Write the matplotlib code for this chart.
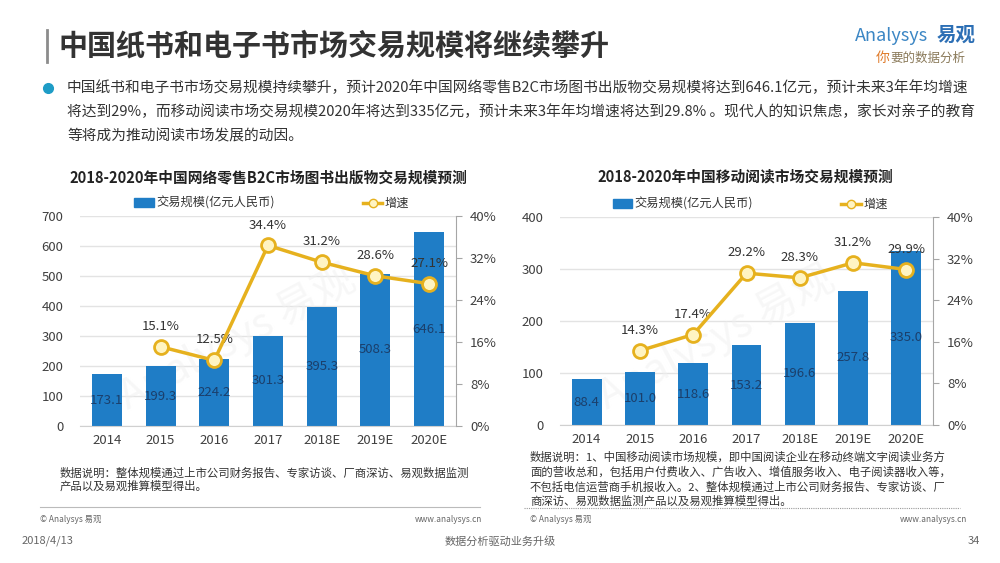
import matplotlib
matplotlib.use("Agg")
import matplotlib.pyplot as plt
from matplotlib.lines import Line2D
from matplotlib.patches import Patch

plt.rcParams['font.family'] = ['Noto Sans CJK SC', 'DejaVu Sans']

years = ['2014', '2015', '2016', '2017', '2018E', '2019E', '2020E']
b2c_size = [173.1, 199.3, 224.2, 301.3, 395.3, 508.3, 646.1]
b2c_growth = [15.1, 12.5, 34.4, 31.2, 28.6, 27.1]   # from 2015
mobile_size = [88.4, 101.0, 118.6, 153.2, 196.6, 257.8, 335.0]
mobile_growth = [14.3, 17.4, 29.2, 28.3, 31.2, 29.9]

bar_color = '#1F7DC6'
line_color = '#E6B11E'
marker_fill = '#FFF4C2'
grid_color = '#E3E3E3'
spine_color = '#A6A6A6'
text_color = '#404040'

W, H = 1000, 563


def px(x):
    return x / W


def py(y):
    return 1 - y / H


fig = plt.figure(figsize=(10, 5.63), dpi=100)
fig.patch.set_facecolor('white')

# header
fig.add_artist(Line2D([px(47), px(47)], [py(30), py(62)], color='#8C8C8C', lw=2))
fig.text(px(58), py(46), '中国纸书和电子书市场交易规模将继续攀升', fontsize=20.9,
         fontweight='bold', color='#333333', va='center')
fig.text(px(855), py(36), 'Analysys', fontsize=13, style='italic', color='#3B86C4', va='center')
fig.text(px(937), py(35), '易观', fontsize=14, fontweight='bold', color='#2C6FB5', va='center')
fig.text(px(876), py(58), '你', fontsize=10, color='#E07B2A', va='center', style='italic')
fig.text(px(890), py(58), '要的数据分析', fontsize=9, color='#8A7A5A', va='center', style='italic')

fig.add_artist(Line2D([px(48)], [py(88)], marker='o', markersize=7, color='#1E9CC6'))
bullet = ['中国纸书和电子书市场交易规模持续攀升，预计2020年中国网络零售B2C市场图书出版物交易规模将达到646.1亿元，预计未来3年年均增速',
          '将达到29%，而移动阅读市场交易规模2020年将达到335亿元，预计未来3年年均增速将达到29.8% 。现代人的知识焦虑，家长对亲子的教育',
          '等将成为推动阅读市场发展的动因。']
for i, line in enumerate(bullet):
    fig.text(px(67), py(88 + 24 * i), line, fontsize=10.6, color='#333333', va='center')


def draw_chart(rect, title, title_x, sizes, growth, ymax, ystep):
    ax = fig.add_axes(rect)
    x = range(len(years))
    ax.bar(x, sizes, width=0.56, color=bar_color, zorder=2)
    for xi, v in zip(x, sizes):
        ax.text(xi, v / 2, f'{v:.1f}', ha='center', va='center', fontsize=9.5,
                color='#1B3F6B', zorder=3)
    ax.set_xlim(-0.5, len(years) - 0.5)
    ax.set_ylim(0, ymax)
    ax.set_yticks(range(0, ymax + 1, ystep))
    ax.set_xticks(list(x))
    ax.set_xticklabels(years)
    ax.yaxis.grid(True, color=grid_color, lw=1, zorder=0)
    ax.set_axisbelow(True)
    for s in ['top', 'right', 'left']:
        ax.spines[s].set_visible(False)
    ax.spines['bottom'].set_color('#D0D0D0')
    ax.tick_params(axis='y', length=0, labelsize=9.5, labelcolor=text_color, pad=12)
    ax.tick_params(axis='x', length=0, labelsize=9.5, labelcolor=text_color, pad=6)

    ax2 = ax.twinx()
    gx = list(x)[1:]
    ax2.plot(gx, growth, color=line_color, lw=2.5, marker='o', markersize=10,
             markerfacecolor=marker_fill, markeredgecolor=line_color,
             markeredgewidth=2, zorder=4)
    for xi, g in zip(gx, growth):
        ax2.annotate(f'{g:.1f}%', (xi, g), xytext=(0, 10), textcoords='offset points',
                     ha='center', va='bottom', fontsize=9.5, color='#333333')
    ax2.set_ylim(0, 40)
    ax2.set_yticks(range(0, 41, 8))
    ax2.set_yticklabels([f'{t}%' for t in range(0, 41, 8)])
    for s in ['top', 'left', 'bottom']:
        ax2.spines[s].set_visible(False)
    ax2.spines['right'].set_color(spine_color)
    ax2.tick_params(axis='y', direction='out', length=4, color=spine_color,
                    labelsize=9.5, labelcolor=text_color, pad=6)

    handles = [Patch(color=bar_color),
               Line2D([0], [0], color=line_color, lw=2.5, marker='o', markersize=6,
                      markerfacecolor=marker_fill, markeredgecolor=line_color)]
    ax.legend(handles, ['交易规模(亿元人民币)', '增速'], ncol=2, frameon=False,
              loc='lower center', bbox_to_anchor=(0.51, 1.0), fontsize=8.8,
              columnspacing=7.2, handlelength=1.6, handletextpad=0.2,
              borderaxespad=0.1, labelcolor='#333333')
    fig.text(title_x, py(177), title, fontsize=10.6, fontweight='bold', ha='center',
             va='center', color='#222222')
    # watermark
    ax.text(0.42, 0.42, 'Analysys 易观', transform=ax.transAxes, fontsize=30,
            color='#F0F0F0', rotation=28, ha='center', va='center', zorder=1,
            alpha=0.5, style='italic')
    return ax


draw_chart([px(80), py(426), px(456) - px(80), py(216) - py(426)],
           '2018-2020年中国网络零售B2C市场图书出版物交易规模预测', px(268),
           b2c_size, b2c_growth, 700, 100)
draw_chart([px(560), py(425), px(933) - px(560), py(217) - py(425)],
           '2018-2020年中国移动阅读市场交易规模预测', px(745),
           mobile_size, mobile_growth, 400, 100)

# notes
note_left = ['数据说明：整体规模通过上市公司财务报告、专家访谈、厂商深访、易观数据监测',
             '产品以及易观推算模型得出。']
for i, line in enumerate(note_left):
    fig.text(px(60), py(473 + 13.5 * i), line, fontsize=8.2, color='#333333', va='center')
note_right = ['数据说明：1、中国移动阅读市场规模，即中国阅读企业在移动终端文字阅读业务方',
              '面的营收总和，包括用户付费收入、广告收入、增值服务收入、电子阅读器收入等，',
              '不包括电信运营商手机报收入。2、整体规模通过上市公司财务报告、专家访谈、厂',
              '商深访、易观数据监测产品以及易观推算模型得出。']
for i, line in enumerate(note_right):
    fig.text(px(530), py(457 + 14.8 * i), line, fontsize=8.2, color='#333333', va='center')

fig.add_artist(Line2D([px(40), px(480)], [py(507), py(507)], color='#BBBBBB', lw=0.8))
fig.add_artist(Line2D([px(524), px(960)], [py(508), py(508)], color='#9A9A9A', lw=0.8,
                      linestyle=(0, (1, 1))))
for x0, x1 in [(40, 482), (530, 967)]:
    fig.text(px(x0), py(519), '© Analysys 易观', fontsize=6, color='#666666', va='center')
    fig.text(px(x1), py(519), 'www.analysys.cn', fontsize=6, color='#666666', va='center',
             ha='right')

fig.text(px(22), py(541), '2018/4/13', fontsize=8, color='#666666', va='center')
fig.text(px(500), py(541), '数据分析驱动业务升级', fontsize=8, color='#666666', va='center',
         ha='center')
fig.text(px(980), py(541), '34', fontsize=8, color='#666666', va='center', ha='right')

fig.savefig('out.png', dpi=100)
